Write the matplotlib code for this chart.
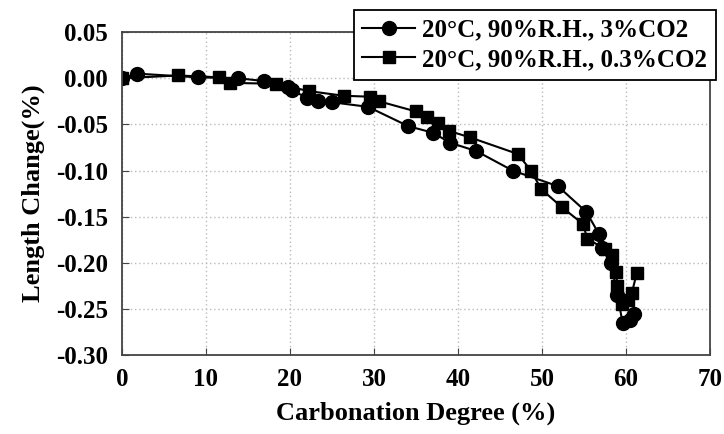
import matplotlib.pyplot as plt

plt.rcParams['font.family'] = ['Liberation Serif', 'DejaVu Serif']
plt.rcParams['font.weight'] = 'bold'
plt.rcParams['axes.labelweight'] = 'bold'

# 20°C, 90%R.H., 3%CO2 (circles)
x_3 = [0, 1.8, 9.0, 13.8, 16.9, 19.8, 20.2, 22.0, 23.3, 25.0, 29.3, 34.1, 37.0,
       39.1, 42.2, 46.5, 51.9, 55.3, 56.8, 57.1, 58.2, 59.0, 59.6, 60.5, 61.0]
y_3 = [0, 0.005, 0.001, 0.0, -0.003, -0.009, -0.013, -0.021, -0.025, -0.026, -0.031,
       -0.052, -0.059, -0.070, -0.079, -0.100, -0.117, -0.145, -0.169, -0.184,
       -0.200, -0.235, -0.265, -0.262, -0.256]

# 20°C, 90%R.H., 0.3%CO2 (squares)
x_03 = [0, 6.7, 11.6, 12.9, 18.3, 22.3, 26.4, 29.5, 30.6, 35.0, 36.3, 37.6, 38.9,
        41.4, 47.1, 48.7, 49.9, 52.4, 54.9, 55.4, 57.5, 58.3, 58.8, 59.0, 59.5,
        60.2, 60.7, 61.3]
y_03 = [0, 0.003, 0.001, -0.005, -0.006, -0.014, -0.019, -0.020, -0.025, -0.036,
        -0.042, -0.048, -0.057, -0.064, -0.082, -0.100, -0.120, -0.140, -0.158,
        -0.174, -0.185, -0.192, -0.210, -0.225, -0.245, -0.240, -0.233, -0.211]

labels = ['20°C, 90%R.H., 3%CO2', '20°C, 90%R.H., 0.3%CO2']

fig = plt.figure(figsize=(7.24, 4.34), dpi=100)
ax = fig.add_axes([0.1685, 0.182, 0.812, 0.744])

ax.plot(x_3, y_3, color='black', marker='o', markersize=10, linewidth=1.5, label=labels[0])
ax.plot(x_03, y_03, color='black', marker='s', markersize=9, linewidth=1.5, label=labels[1])

ax.set_xlim(0, 70)
ax.set_ylim(-0.30, 0.05)
ax.set_xticks(range(0, 71, 10))
ax.set_yticks([0.05, 0.0, -0.05, -0.10, -0.15, -0.20, -0.25, -0.30])
ax.set_yticklabels(['0.05', '0.00', '-0.05', '-0.10', '-0.15', '-0.20', '-0.25', '-0.30'])
ax.tick_params(direction='in', labelsize=18, length=5, color='#444444')
ax.tick_params(axis='x', pad=9)
ax.tick_params(axis='y', pad=10)
ax.grid(True, linestyle=(0, (1, 2)), color='#bbbbbb', linewidth=1.0)
for s in ax.spines.values():
    s.set_color('#444444')
    s.set_linewidth(1.3)

ax.set_xlabel('Carbonation Degree (%)', fontsize=19, labelpad=8)
ax.set_ylabel('Length Change(%)', fontsize=19, labelpad=8)

leg = fig.legend(loc='upper right', bbox_to_anchor=(716 / 724, 1 - 10 / 434),
                 borderaxespad=0, fontsize=18, handlelength=2.1, handletextpad=0.3,
                 fancybox=False, edgecolor='black', framealpha=1, borderpad=0.35,
                 labelspacing=0.25)
leg.get_frame().set_linewidth(1.3)

fig.savefig('out.png', dpi=100)
